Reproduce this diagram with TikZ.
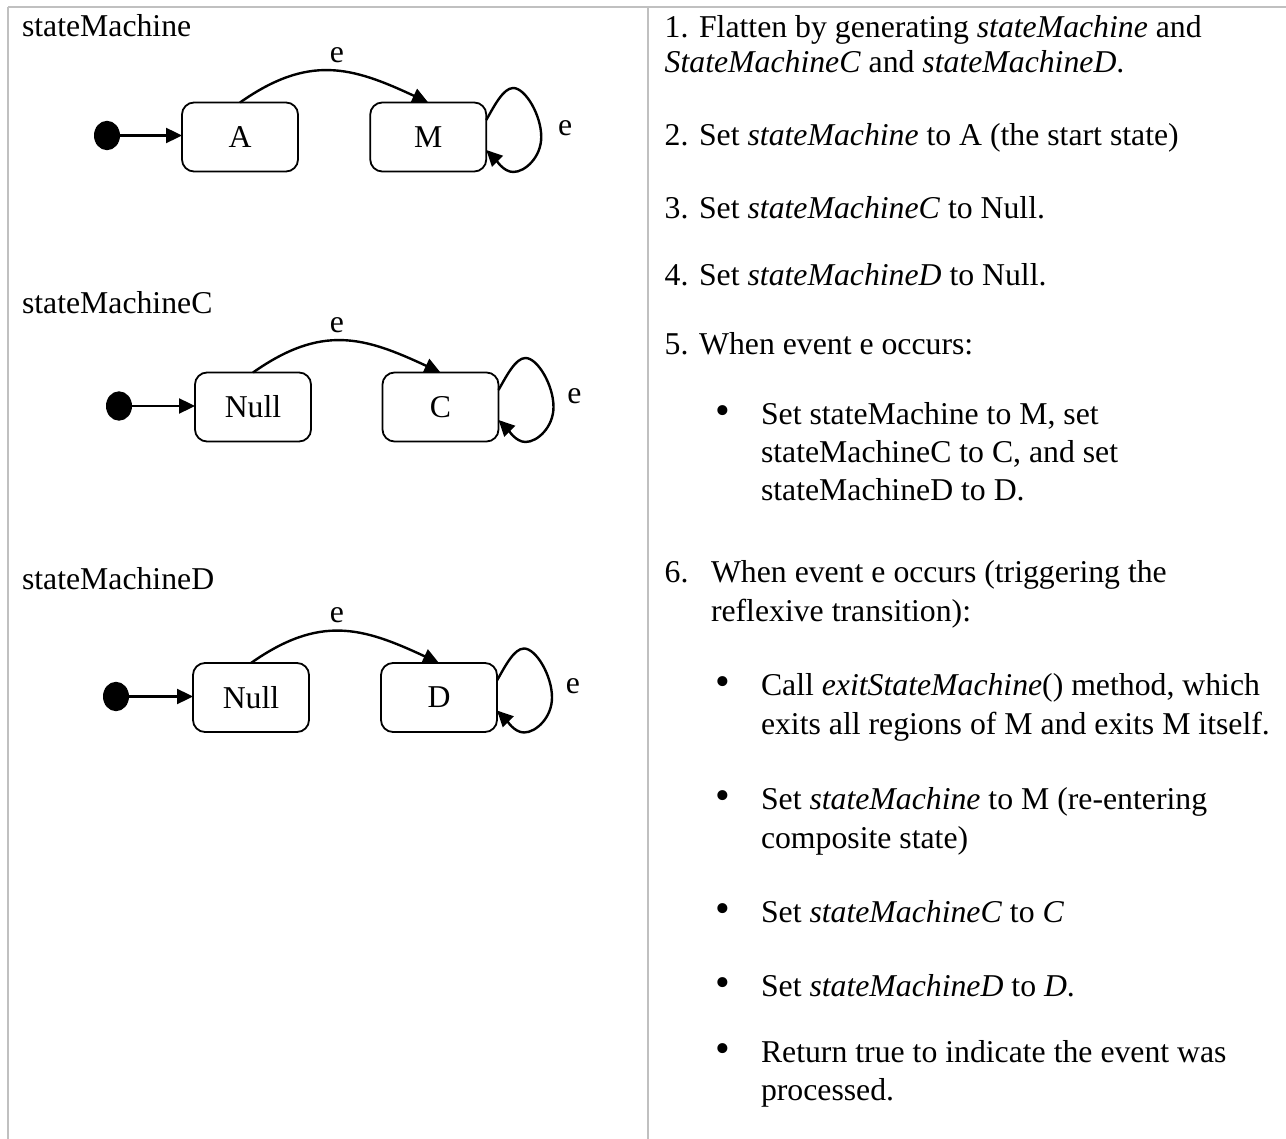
\documentclass[tikz,border=0pt]{standalone}
\usepackage{fontspec}
\setmainfont{Liberation Serif}
\usetikzlibrary{arrows.meta,calc,shapes.geometric}
\definecolor{bordergray}{RGB}{192,192,192}
\begin{document}
\begin{tikzpicture}[x=1pt,y=-1pt,
  every node/.style={font=\fontsize{31.75}{38}\selectfont, inner sep=0pt, outer sep=0pt},
  txt/.style={anchor=base west},
  bul/.style={anchor=base, font=\fontsize{42}{42}\selectfont},
  statebox/.style={draw, line width=1.8pt, rounded corners=12pt, minimum width=116pt, minimum height=69pt, anchor=center},
  initdot/.style={ellipse, fill=black, draw=none, minimum width=26pt, minimum height=29.4pt},
  trans/.style={line width=2.4pt, -{Triangle[length=16pt,width=15pt]}},
  grid/.style={draw=bordergray, line width=1.6pt}
]
\useasboundingbox (0,0) rectangle (1286,1139);
% table lines
\draw[grid] (8,7.3) -- (1286,7.3);
\draw[grid] (8,7.3) -- (8,1139);
\draw[grid] (648,7.3) -- (648,1139);

% ---------- diagram 1 ----------
\node[txt] (lab1) at (22,36.5) {stateMachine};
\node[initdot] (i1) at (107,135.5) {};
\node[statebox] (A) at (240,137) {A};
\node[statebox] (M) at (428.25,137) {M};
\draw[trans] (i1.east) -- (A.west |- i1.east);
\draw[trans] (A.north) .. controls ($(A.north)+(69,-48.5)$) and ($(M.north)+(-76.4,-35.7)$) .. (M.north);
\node (e1) at (337,55) {e};
\draw[trans] ($(M.east)+(0,-17)$) .. controls ($(M.east)+(8,-31)$) and ($(M.east)+(17,-49)$) .. ($(M.east)+(27,-49)$)
  .. controls ($(M.east)+(39,-49)$) and ($(M.east)+(55,-22)$) .. ($(M.east)+(55,0)$)
  .. controls ($(M.east)+(55,20)$) and ($(M.east)+(39,35)$) .. ($(M.east)+(27,35)$)
  .. controls ($(M.east)+(17,35)$) and ($(M.east)+(9,22)$) .. ($(M.east)+(0,13)$);
\node (e1l) at ($(M.east)+(79,-9)$) {e};

% ---------- diagram 2 ----------
\node[txt] (lab2) at (22,314) {stateMachineC};
\node[initdot] (i2) at (119,406) {};
\node[statebox] (N2) at (253,407) {Null};
\node[statebox] (C) at (440.5,407) {C};
\draw[trans] (i2.east) -- (N2.west |- i2.east);
\draw[trans] (N2.north) .. controls ($(N2.north)+(69,-48.5)$) and ($(C.north)+(-76.4,-35.7)$) .. (C.north);
\node (e2) at (337,325) {e};
\draw[trans] ($(C.east)+(0,-17)$) .. controls ($(C.east)+(8,-31)$) and ($(C.east)+(17,-49)$) .. ($(C.east)+(27,-49)$)
  .. controls ($(C.east)+(39,-49)$) and ($(C.east)+(55,-22)$) .. ($(C.east)+(55,0)$)
  .. controls ($(C.east)+(55,20)$) and ($(C.east)+(39,35)$) .. ($(C.east)+(27,35)$)
  .. controls ($(C.east)+(17,35)$) and ($(C.east)+(9,22)$) .. ($(C.east)+(0,13)$);
\node (e2l) at ($(C.east)+(76,-11)$) {e};

% ---------- diagram 3 ----------
\node[txt] (lab3) at (22,589) {stateMachineD};
\node[initdot] (i3) at (116,696.5) {};
\node[statebox] (N3) at (251,697.5) {Null};
\node[statebox] (D) at (439,697.5) {D};
\draw[trans] (i3.east) -- (N3.west |- i3.east);
\draw[trans] (N3.north) .. controls ($(N3.north)+(69,-48.5)$) and ($(D.north)+(-76.4,-35.7)$) .. (D.north);
\node (e3) at (337,615.5) {e};
\draw[trans] ($(D.east)+(0,-17)$) .. controls ($(D.east)+(8,-31)$) and ($(D.east)+(17,-49)$) .. ($(D.east)+(27,-49)$)
  .. controls ($(D.east)+(39,-49)$) and ($(D.east)+(55,-22)$) .. ($(D.east)+(55,0)$)
  .. controls ($(D.east)+(55,20)$) and ($(D.east)+(39,35)$) .. ($(D.east)+(27,35)$)
  .. controls ($(D.east)+(17,35)$) and ($(D.east)+(9,22)$) .. ($(D.east)+(0,13)$);
\node (e3l) at ($(D.east)+(76,-11)$) {e};

% ---------- right column ----------
\node[txt] (r1a) at (664.7,38) {1. Flatten by generating \textit{stateMachine} and};
\node[txt] (r1b) at (664.7,73) {\textit{StateMachineC} and \textit{stateMachineD}.};
\node[txt] (r2) at (664.7,146) {2. Set \textit{stateMachine} to A (the start state)};
\node[txt] (r3) at (664.7,219) {3. Set \textit{stateMachineC} to Null.};
\node[txt] (r4) at (664.7,286) {4. Set \textit{stateMachineD} to Null.};
\node[txt] (r5) at (664.7,355) {5. When event e occurs:};
\node[bul] (b5) at (723,425) {•};
\node[txt] (r5a) at (761,425) {Set stateMachine to M, set};
\node[txt] (r5b) at (761,463) {stateMachineC to C, and set};
\node[txt] (r5c) at (761,501) {stateMachineD to D.};
\node[txt] (r6n) at (664.7,582) {6.};
\node[txt] (r6a) at (711,582) {When event e occurs (triggering the};
\node[txt] (r6b) at (711,621) {reflexive transition):};
\node[bul] (b61) at (723,695) {•};
\node[txt] (r61a) at (761,695) {Call \textit{exitStateMachine}() method, which};
\node[txt] (r61b) at (761,734) {exits all regions of M and exits M itself.};
\node[bul] (b62) at (723,809) {•};
\node[txt] (r62a) at (761,809) {Set \textit{stateMachine} to M (re-entering};
\node[txt] (r62b) at (761,848) {composite state)};
\node[bul] (b63) at (723,922) {•};
\node[txt] (r63) at (761,922) {Set \textit{stateMachineC} to \textit{C}};
\node[bul] (b64) at (723,996) {•};
\node[txt] (r64) at (761,996) {Set \textit{stateMachineD} to \textit{D}.};
\node[bul] (b65) at (723,1062) {•};
\node[txt] (r65a) at (761,1062) {Return true to indicate the event was};
\node[txt] (r65b) at (761,1100) {processed.};
\end{tikzpicture}
\end{document}
